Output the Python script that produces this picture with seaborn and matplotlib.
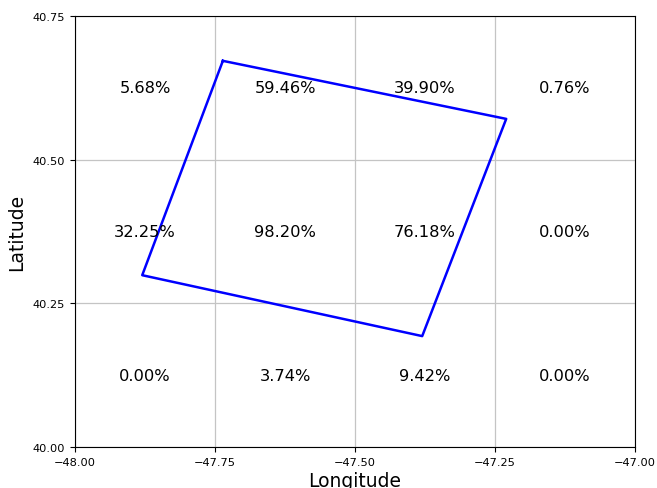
import matplotlib
matplotlib.use("Agg")
import matplotlib.pyplot as plt
import seaborn as sns
import pandas as pd

# Polygon outline (closed ring of lon/lat vertices)
poly_lon = [-47.736, -47.230, -47.380, -47.880, -47.736]
poly_lat = [40.672, 40.571, 40.193, 40.299, 40.672]

# Grid cell centres and coverage percentages (rows top to bottom)
cell_lon = [-47.875, -47.625, -47.375, -47.125]
cell_lat = [40.625, 40.375, 40.125]
coverage = [
    [5.68, 59.46, 39.90, 0.76],
    [32.25, 98.20, 76.18, 0.00],
    [0.00, 3.74, 9.42, 0.00],
]

x_ticks = [-48.00, -47.75, -47.50, -47.25, -47.00]
y_ticks = [40.00, 40.25, 40.50, 40.75]

fig = plt.figure(figsize=(6.57, 4.89), dpi=100)
ax = fig.add_axes([0.1142, 0.0838, 0.8523, 0.8814])

df = pd.DataFrame({"lon": poly_lon, "lat": poly_lat})
sns.lineplot(data=df, x="lon", y="lat", sort=False, estimator=None,
             color="blue", linewidth=1.8, ax=ax)

for r, lat in enumerate(cell_lat):
    for c, lon in enumerate(cell_lon):
        ax.text(lon, lat, f"{coverage[r][c]:.2f}%", ha="center", va="center",
                fontsize=11.7, color="black")

ax.set_xlim(-48, -47)
ax.set_ylim(40, 40.75)
ax.set_xticks(x_ticks)
ax.set_yticks(y_ticks)
ax.set_xticklabels([f"{v:.2f}".replace("-", "\u2212") for v in x_ticks])
ax.set_yticklabels([f"{v:.2f}" for v in y_ticks])
ax.tick_params(labelsize=8.2, length=3.5, width=0.8)
ax.grid(True, color="#c4c4c4", linewidth=0.9)
ax.set_xlabel("Longitude", fontsize=13.5, labelpad=3)
ax.set_ylabel("Latitude", fontsize=13.5, labelpad=5)

fig.savefig("out.png", dpi=100)
